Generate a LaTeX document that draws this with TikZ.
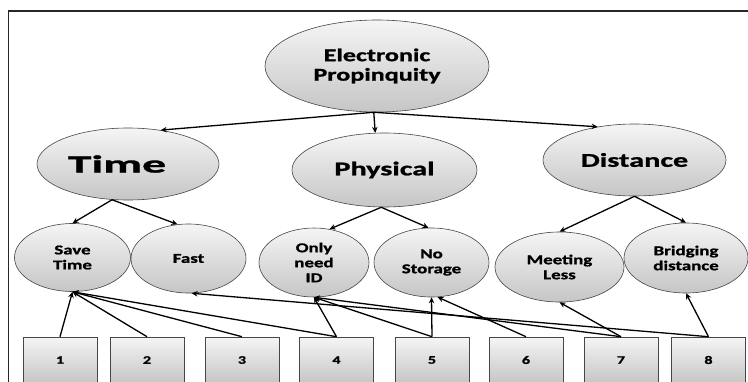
\documentclass[tikz,border=0pt]{standalone}
\usepackage{fontspec}
\setmainfont{Carlito}
\newfontfamily\fRoot{Carlito Bold}[FakeStretch=1.45, FakeBold=1.2]
\newfontfamily\fTime{Carlito Bold}[FakeStretch=1.95, FakeBold=1.2]
\newfontfamily\fMid{Carlito Bold}[FakeStretch=1.55, FakeBold=1.2]
\newfontfamily\fLeaf{Carlito Bold}[FakeStretch=1.4, FakeBold=1.2]
\newfontfamily\fBox{Carlito Bold}[FakeStretch=1.4, FakeBold=1.2]
\usetikzlibrary{arrows.meta,shapes.geometric}
\begin{document}
\begin{tikzpicture}[x=1pt,y=-1pt,
  ell/.style={ellipse, draw=gray!55!black, line width=0.6pt, top color=gray!8, bottom color=gray!45, inner sep=0pt, text=black, align=center},
  numbox/.style={rectangle, draw=gray!55!black, line width=0.6pt, top color=gray!8, bottom color=gray!45, minimum width=74pt, minimum height=46pt, inner sep=0pt, font=\fBox\fontsize{11.5}{13}\selectfont},
  leaf/.style={ell, font=\fLeaf\fontsize{13.5}{15}\selectfont},
  mid/.style={ell, font=\fMid\fontsize{19.5}{22}\selectfont},
  conn/.style={line width=1.3pt, -{Stealth[length=6pt,width=5.5pt]}}]
\useasboundingbox (0,0) rectangle (748,381);
\clip (0,0) rectangle (748,381);
\fill[white] (0,0) rectangle (748,381);
\draw[line width=1.3pt, black!85] (8.5,395) -- (8.5,11) -- (760,11);

\node[ell, minimum width=224pt, minimum height=92pt, font=\fRoot\fontsize{18}{19.5}\selectfont] (root) at (377,66) {Electronic\\Propinquity};
\node[ell, minimum width=182pt, minimum height=72pt, font=\fTime\fontsize{24.5}{26}\selectfont] (time) at (128,164) {Time\kern22pt};
\node[mid, minimum width=185pt, minimum height=74pt] (phys) at (384.5,170) {Physical};
\node[mid, minimum width=183pt, minimum height=72pt] (dist) at (634.5,160) {Distance};

\node[leaf, minimum width=116pt, minimum height=68pt] (st) at (72.5,257.5) {Save\\Time};
\node[leaf, minimum width=115pt, minimum height=69pt] (fast) at (188.5,258.5) {Fast};
\node[leaf, minimum width=110pt, minimum height=69pt] (oid) at (314,262.5) {Only\\need\\ID};
\node[leaf, minimum width=115pt, minimum height=69pt] (ns) at (431.5,262.5) {No\\Storage};
\node[leaf, minimum width=129pt, minimum height=70pt] (ml) at (559.5,267) {Meeting\\Less};
\node[leaf, minimum width=124pt, minimum height=70pt] (bd) at (686,258) {Bridging\\distance};

\node[numbox] (b1) at (60,360) {1};
\node[numbox] (b2) at (147,360) {2};
\node[numbox] (b3) at (242,360) {3};
\node[numbox] (b4) at (336.5,360) {4};
\node[numbox] (b5) at (432,360) {5};
\node[numbox] (b6) at (526,360) {6};
\node[numbox] (b7) at (621,360) {7};
\node[numbox] (b8) at (708.5,360) {8};

\draw[conn] (root.-94) -- (time.46);
\draw[conn] (root.-94) -- (phys.104);
\draw[conn] (root.-94) -- (dist.138);

\draw[conn] (time.-114) -- (st.north);
\draw[conn] (time.-114) -- (fast.108);
\draw[conn] (phys.-95) -- (oid.65);
\draw[conn] (phys.-95) -- (ns.95);
\draw[conn] (dist.south) -- (ml.north);
\draw[conn] (dist.south) -- (bd.north);

\draw[conn] (b1.north) -- (st.south);
\draw[conn] (b2.north) -- (st.south);
\draw[conn] (b3.north) -- (st.south);
\draw[conn] (b4.north) -- (st.south);
\draw[conn] (b4.north) -- (oid.south);
\draw[conn] (b5.north) -- (oid.south);
\draw[conn] (b5.north) -- (ns.south);
\draw[conn] (b6.north) -- (ns.-80);
\draw[conn] (b7.north) -- (oid.south);
\draw[conn] (b7.north) -- (ml.south);
\draw[conn] (b8.north) -- (fast.-85);
\draw[conn] (b8.north) -- (bd.south);
\end{tikzpicture}
\end{document}
